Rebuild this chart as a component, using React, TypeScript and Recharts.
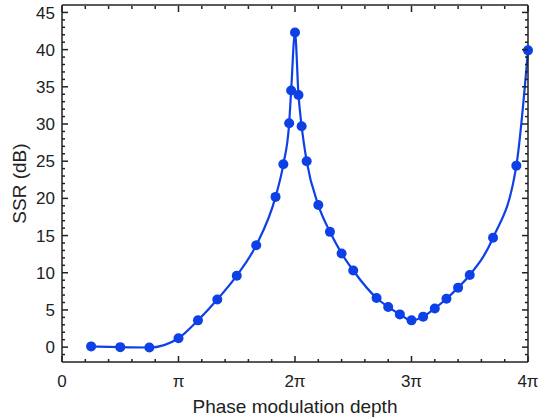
import { LineChart, Line, XAxis, YAxis } from 'recharts';

// phase modulation depth, in units of pi
const depthPi = [
    0.25, 0.5, 0.75, 1.0, 1.167, 1.333, 1.5, 1.667, 1.833, 1.9, 1.95, 1.967, 2.0, 2.03, 2.057, 2.1,
    2.2, 2.3, 2.4, 2.5, 2.7, 2.8, 2.9, 3.0, 3.1, 3.2, 3.3, 3.4, 3.5, 3.7, 3.9, 4.0,
];
// side-mode suppression ratio, dB
const ssrDb = [
    0.1, 0.0, -0.05, 1.2, 3.6, 6.4, 9.6, 13.7, 20.2, 24.6, 30.1, 34.5, 42.3, 33.9, 29.7, 25.0,
    19.1, 15.5, 12.6, 10.3, 6.6, 5.4, 4.4, 3.6, 4.1, 5.2, 6.5, 8.0, 9.7, 14.7, 24.4, 39.9,
];

const xMajorTicks = [0, 1, 2, 3, 4];
const xTickLabels = ['0', 'π', '2π', '3π', '4π'];
const yTickLabels = ['0', '5', '10', '15', '20', '25', '30', '35', '40', '45'];

const data = depthPi.map((x, i) => ({ x, ssr: ssrDb[i] }));

// minor tick positions (every 0.2 pi on x, every 1 dB on y)
const xTicks = Array.from({ length: 21 }, (_, i) => Math.round(i * 20) / 100);
const yTicks = Array.from({ length: 47 }, (_, i) => i - 1);

const FONT = '"Liberation Sans", Arial, sans-serif';
const INK = '#222';
const BLUE = '#0d40e6';

const isInt = (v: number) => Math.abs(v - Math.round(v)) < 1e-6;

const xLabel = (v: number) => {
    const idx = xMajorTicks.findIndex((m) => Math.abs(m - v) < 1e-6);
    return idx >= 0 ? xTickLabels[idx] : null;
};

const BottomTick = ({ x, y, payload }: any) => {
    const v = payload.value;
    const label = xLabel(v);
    return (
        <g>
            <line x1={x} x2={x} y1={y} y2={y - (label ? 6 : 3)} stroke={INK} strokeWidth={1.5} />
            {label && (
                <text x={x} y={y + 25} textAnchor="middle" fontSize={17} fontFamily={FONT} fill={INK}>
                    {label}
                </text>
            )}
        </g>
    );
};

// top axis box is 1px tall, so y sits 1px above the frame line
const TopTick = ({ x, y, payload }: any) => {
    const major = isInt(payload.value);
    return <line x1={x} x2={x} y1={y + 1} y2={y + 1 + (major ? 6 : 3)} stroke={INK} strokeWidth={1.5} />;
};

const LeftTick = ({ x, y, payload }: any) => {
    const v = payload.value;
    const major = v % 5 === 0 && v >= 0;
    return (
        <g>
            <line x1={x} x2={x + (major ? 6 : 3)} y1={y} y2={y} stroke={INK} strokeWidth={1.5} />
            {major && (
                <text x={x - 7} y={y} dy="0.36em" textAnchor="end" fontSize={17} fontFamily={FONT} fill={INK}>
                    {yTickLabels[v / 5]}
                </text>
            )}
        </g>
    );
};

const RightTick = ({ x, y, payload }: any) => {
    const major = payload.value % 5 === 0;
    return <line x1={x} x2={x - (major ? 6 : 3)} y1={y} y2={y} stroke={INK} strokeWidth={1.5} />;
};

const axisLine = { stroke: INK, strokeWidth: 1.5 };

export default function App() {
    return (
        <div style={{ position: 'absolute', left: 0, top: 0 }}>
            <LineChart width={550} height={419} data={data} margin={{ top: 4, right: 21, bottom: 0, left: 12 }}>
                <XAxis
                    dataKey="x"
                    type="number"
                    domain={[0, 4]}
                    ticks={xTicks}
                    interval={0}
                    tickSize={0}
                    tickMargin={0}
                    tickLine={false}
                    tick={BottomTick}
                    axisLine={axisLine}
                    height={57}
                    label={{
                        content: ({ viewBox }: any) => (
                            <text
                                x={viewBox.x + viewBox.width / 2}
                                y={viewBox.y + 51}
                                textAnchor="middle"
                                fontSize={19}
                                fontFamily={FONT}
                                fill={INK}
                            >
                                Phase modulation depth
                            </text>
                        ),
                    }}
                />
                <XAxis
                    xAxisId="top"
                    dataKey="x"
                    orientation="top"
                    type="number"
                    domain={[0, 4]}
                    ticks={xTicks}
                    interval={0}
                    tickSize={0}
                    tickMargin={0}
                    tickLine={false}
                    tick={TopTick}
                    axisLine={axisLine}
                    height={1}
                />
                <YAxis
                    type="number"
                    domain={[-2, 46]}
                    ticks={yTicks}
                    interval={0}
                    tickSize={0}
                    tickMargin={0}
                    tickLine={false}
                    tick={LeftTick}
                    axisLine={axisLine}
                    width={50}
                    label={{
                        content: ({ viewBox }: any) => {
                            const cx = 26;
                            const cy = viewBox.y + viewBox.height / 2;
                            return (
                                <text
                                    x={cx}
                                    y={cy}
                                    transform={`rotate(-90, ${cx}, ${cy})`}
                                    textAnchor="middle"
                                    fontSize={19}
                                    fontFamily={FONT}
                                    fill={INK}
                                >
                                    SSR (dB)
                                </text>
                            );
                        },
                    }}
                />
                <YAxis
                    yAxisId="right"
                    orientation="right"
                    type="number"
                    domain={[-2, 46]}
                    ticks={yTicks}
                    interval={0}
                    tickSize={0}
                    tickMargin={0}
                    tickLine={false}
                    tick={RightTick}
                    axisLine={axisLine}
                    width={1}
                />
                {/* invisible series so the top and right frame axes get a scale */}
                <Line
                    xAxisId="top"
                    yAxisId="right"
                    dataKey="ssr"
                    stroke="none"
                    dot={false}
                    activeDot={false}
                    isAnimationActive={false}
                />
                <Line
                    type="monotone"
                    dataKey="ssr"
                    stroke={BLUE}
                    strokeWidth={2.2}
                    dot={{ r: 5, fill: BLUE, stroke: 'none' }}
                    isAnimationActive={false}
                />
            </LineChart>
        </div>
    );
}
